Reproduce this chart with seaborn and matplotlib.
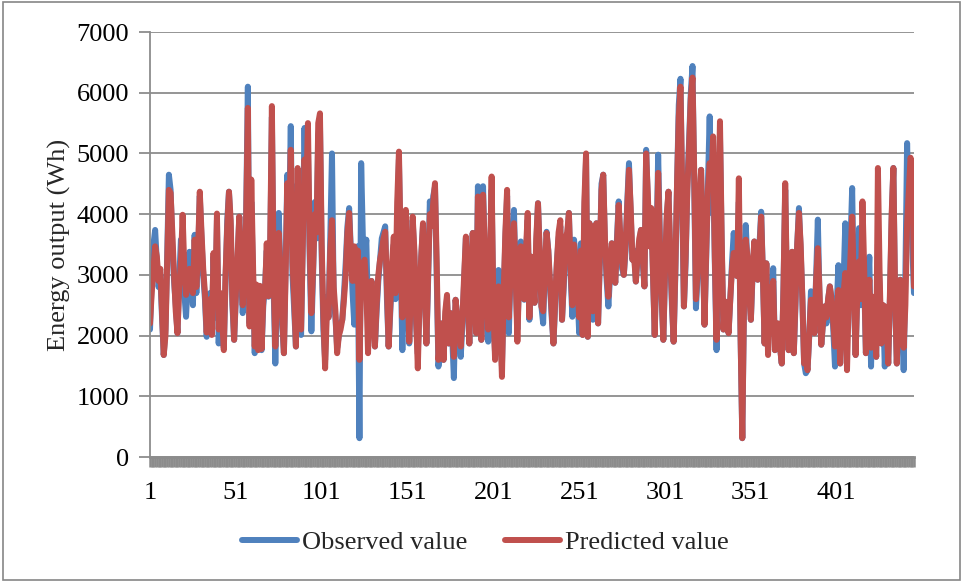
import numpy as np
import pandas as pd
import matplotlib
matplotlib.use("Agg")
import matplotlib.pyplot as plt
from matplotlib.patches import Rectangle
from matplotlib.lines import Line2D
import seaborn as sns

# Hourly energy output (Wh), observed vs. model prediction
observed = [
    2100, 2900, 3500, 3740, 3200, 2800, 3000, 2300, 1680, 2100,
    3300, 4650, 4400, 3500, 2900, 2500, 2040, 2900, 3580, 3300,
    2700, 2310, 2900, 3380, 3000, 2500, 3660, 2700, 3300, 4300,
    3600, 3000, 2600, 1980, 2400, 2700, 2100, 3300, 2300, 3900,
    1870, 2600, 2200, 1800, 2900, 3900, 4370, 3800, 2500, 1930,
    2600, 3200, 3960, 3000, 2370, 2800, 4000, 6100, 2200, 4200,
    3000, 1710, 2800, 1800, 2600, 1760, 2500, 2800, 3400, 2640,
    3300, 5600, 2800, 1540, 2700, 4020, 3000, 2200, 1710, 3200,
    4650, 3800, 5450, 3000, 2400, 1820, 4500, 3300, 2010, 3600,
    5420, 4000, 5100, 3300, 2070, 3000, 4200, 3600, 5300, 5500,
    3300, 2100, 1600, 2640, 2300, 3600, 5000, 2600, 2300, 1800,
    2000, 2200, 2260, 2700, 3200, 3800, 4100, 3400, 2700, 2180,
    3300, 3470, 310, 4840, 3600, 3250, 3580, 2300, 2640, 2900,
    2300, 1820, 2400, 2900, 3250, 3600, 3700, 3800, 2600, 1820,
    2400, 3000, 3500, 2600, 3800, 4900, 3200, 1760, 2900, 4000,
    2800, 1870, 2700, 3900, 3300, 2200, 1700, 2500, 3300, 3800,
    2900, 1870, 2900, 4210, 3900, 4300, 4450, 3000, 1490, 1800,
    2200, 1600, 2300, 2600, 1870, 2370, 2000, 1300, 2590, 2300,
    2000, 1650, 2200, 2900, 3600, 2700, 1870, 3000, 3690, 2700,
    2040, 4460, 3690, 1930, 4460, 3300, 2500, 1900, 3000, 4400,
    2300, 1700, 2500, 3080, 2400, 1500, 2600, 3600, 4300, 2040,
    3000, 3500, 4070, 2900, 2100, 2900, 3550, 3000, 2590, 3300,
    3900, 2260, 3300, 2800, 2540, 3500, 4180, 3300, 2480, 2200,
    3100, 3710, 3400, 2800, 2300, 1870, 2500, 3200, 3600, 3800,
    2260, 2800, 3500, 3600, 4020, 3000, 2310, 3580, 3200, 2700,
    2040, 3520, 2010, 4000, 4900, 1980, 3850, 3000, 2260, 2900,
    3850, 2200, 3200, 4500, 4650, 3500, 2900, 2480, 3000, 3520,
    3200, 2870, 3600, 4210, 3500, 3100, 3000, 3400, 4200, 4840,
    4000, 3250, 3400, 2890, 3300, 3500, 3740, 3200, 2810, 5060,
    4200, 3470, 4000, 3000, 2010, 3400, 4980, 3600, 2600, 1930,
    3000, 3900, 4370, 3300, 2500, 1900, 3000, 4500, 5800, 6230,
    4200, 2480, 3200, 4500, 5200, 6000, 6440, 4500, 2450, 3000,
    4000, 4730, 3400, 2180, 3300, 4500, 5610, 4020, 4800, 3200,
    1760, 3500, 5300, 3500, 2100, 2560, 2300, 2040, 2600, 3200,
    3690, 3300, 2980, 4200, 2000, 310, 2500, 3820, 3200, 2800,
    2260, 3000, 3550, 3200, 2920, 3500, 4040, 3000, 1870, 3190,
    2200, 2800, 2500, 3110, 1760, 2200, 2000, 1800, 1540, 2800,
    4400, 2700, 1760, 2600, 3380, 1710, 2500, 3500, 4100, 3400,
    2600, 1540, 1380, 1430, 2000, 2730, 2500, 2040, 3000, 3910,
    2600, 1850, 2200, 2480, 2200, 2600, 2810, 2600, 2100, 1490,
    2500, 3160, 1540, 2200, 2900, 3850, 2000, 2800, 3500, 4430,
    2600, 1680, 2700, 3770, 2500, 3300, 2900, 1710, 2600, 3300,
    1490, 2640, 2200, 1650, 3500, 2800, 1870, 2500, 1490, 2200,
    1540, 2600, 3900, 4760, 2600, 1540, 2300, 2920, 2500, 1430,
    3000, 5170, 3900, 4500, 3500, 2700,
]

predicted = [
    2200, 2700, 3100, 3470, 3300, 2900, 3100, 2400, 1680, 2000,
    3200, 4400, 4350, 3700, 3000, 2400, 2040, 2800, 3200, 3990,
    3100, 2670, 2800, 3100, 3000, 2700, 3580, 2800, 3400, 4370,
    3700, 3100, 2700, 2050, 2500, 2600, 2010, 3360, 2500, 4010,
    2100, 2700, 2300, 1760, 3000, 3800, 4370, 3900, 2600, 1930,
    2700, 3300, 3960, 3200, 2500, 2900, 3900, 5750, 2150, 4570,
    3200, 1820, 2840, 1760, 2820, 1780, 2600, 2700, 3520, 2650,
    3500, 5780, 3000, 1820, 2800, 3690, 3100, 2300, 1710, 3000,
    4510, 3700, 5060, 3200, 2600, 1820, 4760, 3400, 2100, 3500,
    4900, 4300, 5500, 3500, 2370, 3100, 4000, 3700, 5500, 5660,
    3500, 2300, 1460, 2370, 2300, 3400, 3900, 2800, 2400, 1710,
    2000, 2100, 2260, 2600, 3000, 3700, 4020, 3300, 2900, 3470,
    2900, 3400, 1600, 3000, 3190, 3250, 2800, 1710, 2640, 2900,
    2400, 1820, 2500, 3000, 3250, 3400, 3600, 3710, 2800, 1820,
    2500, 3200, 3630, 2700, 4200, 5030, 3500, 2300, 3000, 4070,
    2900, 1900, 2800, 3960, 3400, 2300, 1460, 2600, 3300, 3850,
    2800, 1870, 3000, 4000, 3800, 4200, 4510, 3200, 1600, 1900,
    2200, 1600, 2400, 2670, 1870, 2370, 2100, 1650, 2590, 2300,
    2100, 1820, 2300, 3000, 3630, 2800, 1870, 2900, 3690, 2800,
    2040, 4290, 3690, 1930, 4320, 3400, 2600, 2100, 3200, 4620,
    2500, 1600, 2600, 2810, 2200, 1320, 2700, 3700, 4400, 2300,
    3000, 3400, 3850, 3000, 1900, 3000, 3470, 3000, 2600, 3400,
    4020, 2300, 3300, 2900, 2540, 3600, 4180, 3400, 2480, 2400,
    3100, 3690, 3400, 2900, 2400, 1870, 2600, 3200, 3700, 3900,
    2260, 2900, 3600, 3700, 4020, 3100, 2500, 3500, 3100, 2800,
    2300, 3400, 2010, 4200, 5000, 1980, 3850, 3100, 2400, 3000,
    3850, 2200, 3300, 4400, 4650, 3600, 3000, 2640, 3100, 3520,
    3300, 2870, 3500, 4150, 3600, 3200, 3000, 3500, 4100, 4730,
    4100, 3250, 3300, 2890, 3300, 3600, 3740, 3300, 2810, 5000,
    4300, 3470, 4100, 3000, 2010, 3300, 4680, 3500, 2700, 1930,
    3100, 4000, 4370, 3400, 2600, 1900, 3100, 4500, 5600, 6100,
    4400, 2480, 3300, 4400, 5100, 5900, 6250, 4700, 2600, 3100,
    4200, 4730, 3500, 2180, 3400, 4400, 4840, 4500, 5280, 3300,
    1930, 4000, 5530, 3600, 2100, 2560, 2300, 2040, 2600, 3100,
    3360, 3200, 2980, 4590, 2000, 310, 2600, 3580, 3300, 2700,
    2260, 3100, 3550, 3300, 2920, 3400, 3960, 3000, 1870, 3190,
    1680, 2800, 2500, 2900, 1760, 2200, 2200, 1800, 1540, 2800,
    4510, 2800, 1760, 2700, 3380, 1710, 2600, 3500, 4020, 3500,
    2600, 1540, 1600, 1430, 2000, 2590, 2500, 2040, 2900, 3440,
    2700, 1850, 2200, 2480, 2300, 2600, 2810, 2600, 2200, 1820,
    2300, 2750, 1540, 2300, 2700, 3030, 1430, 2600, 3300, 3960,
    2800, 1680, 2700, 3220, 2600, 4210, 3100, 1710, 2500, 2920,
    1800, 2640, 2300, 1650, 4760, 3000, 1870, 2500, 2480, 2300,
    1540, 2700, 4000, 4760, 2700, 1540, 2400, 2920, 2600, 1800,
    2500, 3850, 4400, 4930, 4800, 2810,
]

series_names = ["Observed value", "Predicted value"]
series_colors = ["#4F81BD", "#C0504D"]
x_tick_labels = ["1", "51", "101", "151", "201", "251", "301", "351", "401"]
y_ticks = [0, 1000, 2000, 3000, 4000, 5000, 6000, 7000]

n = len(observed)
index = np.arange(1, n + 1)
df = pd.concat([
    pd.DataFrame({"Index": index, "Energy": observed, "Series": series_names[0]}),
    pd.DataFrame({"Index": index, "Energy": predicted, "Series": series_names[1]}),
])

sns.set_theme(style="white")
plt.rcParams["font.family"] = ["Liberation Serif", "DejaVu Serif"]

fig = plt.figure(figsize=(9.64, 5.81), dpi=100)
ax = fig.add_axes([0.1556, 0.2134, 0.7925, 0.7315])

sns.lineplot(
    data=df, x="Index", y="Energy", hue="Series",
    hue_order=series_names, palette=series_colors,
    linewidth=4.3, sort=False, legend=False, ax=ax,
    solid_joinstyle="round", solid_capstyle="round",
)

grid_color = "#8c8c8c"
ax.set_xlim(1, n)
ax.set_ylim(0, 7000)
ax.set_yticks(y_ticks)
ax.set_yticklabels([str(v) for v in y_ticks], fontsize=19)
ax.yaxis.grid(True, color=grid_color, linewidth=1.3)
ax.set_axisbelow(True)

# category ticks at every point, labels every 50
ax.set_xticks(index)
ax.set_xticklabels([str(i) if str(i) in x_tick_labels else "" for i in index], fontsize=19)
ax.tick_params(axis="x", which="major", bottom=True, direction="out", length=7,
               width=1.8, color=grid_color, labelcolor="black", pad=11)
ax.tick_params(axis="y", which="major", left=True, direction="out", length=8,
               width=1.3, color=grid_color, labelcolor="black", pad=7)

for side in ["top", "right"]:
    ax.spines[side].set_visible(False)
ax.spines["left"].set_color(grid_color)
ax.spines["left"].set_linewidth(1.3)
ax.spines["bottom"].set_color(grid_color)
ax.spines["bottom"].set_linewidth(2.0)

ax.set_xlabel("")
ax.set_ylabel("Energy output (Wh)", fontsize=19, labelpad=4)

handles = [Line2D([0], [0], color=c, linewidth=4.3, solid_capstyle="round") for c in series_colors]
fig.legend(handles, series_names, loc="center", bbox_to_anchor=(0.5036, 0.067),
           ncol=2, frameon=False, fontsize=19, handlelength=2.1,
           handletextpad=0.2, columnspacing=1.4)

fig.patches.append(Rectangle((0.003, 0.002), 0.993, 0.994, transform=fig.transFigure,
                             fill=False, edgecolor="#868686", linewidth=1.2))

fig.savefig("out.png", dpi=100, facecolor="white")
